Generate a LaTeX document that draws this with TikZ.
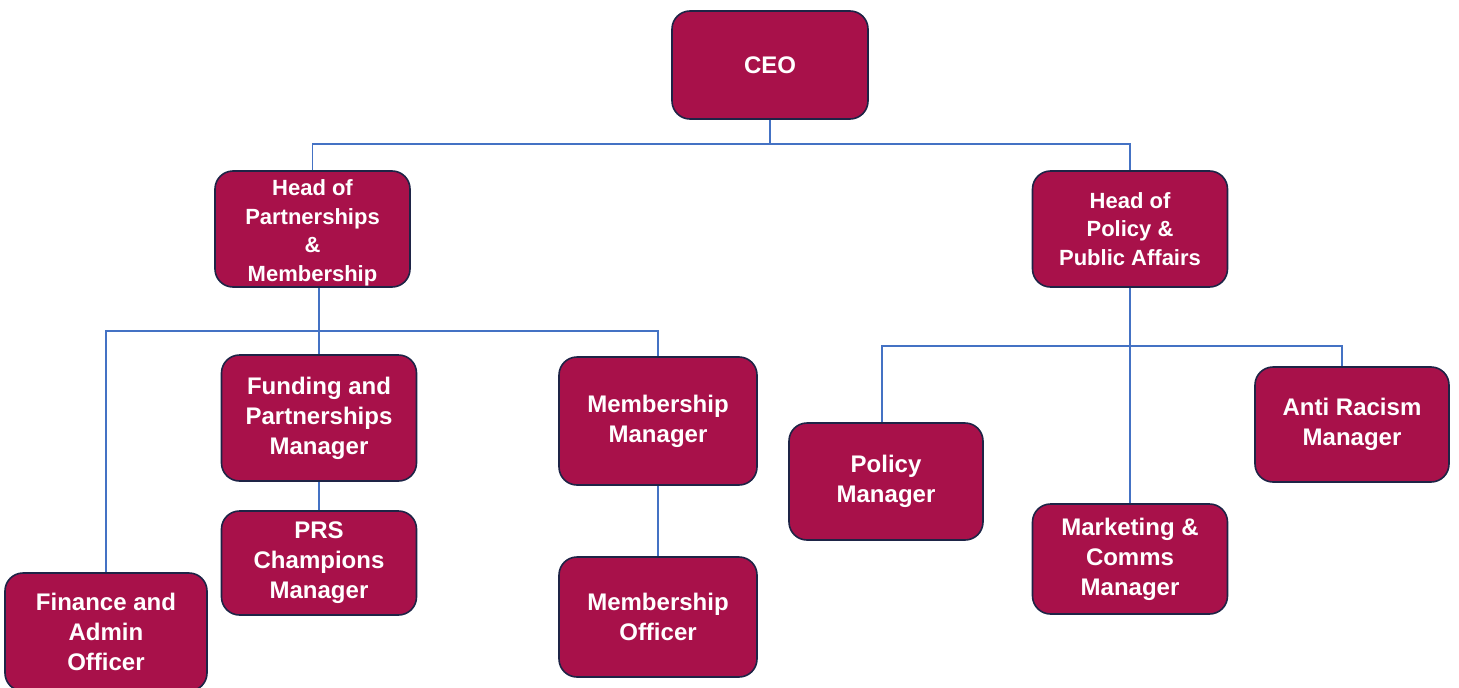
\documentclass[tikz,border=0pt]{standalone}
\usepackage{fontspec}
\setmainfont{Liberation Sans}
\definecolor{boxfill}{RGB}{168,17,74}
\definecolor{boxedge}{RGB}{30,36,70}
\definecolor{conncol}{RGB}{68,114,196}
\tikzset{
  orgbox/.style={draw=boxedge, fill=boxfill, line width=1.6pt, rounded corners=18pt,
    text=white, align=center, inner sep=0pt, font=\bfseries\fontsize{24}{30}\selectfont},
  headbox/.style={orgbox, font=\bfseries\fontsize{22}{28.5}\selectfont},
  conn/.style={draw=conncol, line width=1.6pt}
}
\begin{document}
\begin{tikzpicture}[x=1pt,y=-1pt]
\useasboundingbox (0,0) rectangle (1459,688);
% nodes
\node[orgbox, minimum width=196pt, minimum height=108pt] (ceo) at (770,65) {CEO};
\node[headbox, minimum width=195pt, minimum height=116pt] (hp) at (312.5,229) {\rule{0pt}{24pt}Head of\\Partnerships\\\&\\Membership};
\node[headbox, minimum width=195pt, minimum height=116pt] (hpol) at (1130,229) {Head of\\Policy \&\\Public Affairs};
\node[orgbox, minimum width=195pt, minimum height=126pt] (fund) at (319,418) {Funding and\\Partnerships\\Manager};
\node[orgbox, minimum width=195pt, minimum height=104pt] (prs) at (319,563) {PRS\\Champions\\Manager};
\node[orgbox, minimum width=202pt, minimum height=118pt] (fin) at (106,632) {Finance and\\Admin\\Officer};
\node[orgbox, minimum width=198pt, minimum height=128pt] (mm) at (658,421) {Membership\\Manager};
\node[orgbox, minimum width=198pt, minimum height=120pt] (mo) at (658,617) {Membership\\Officer};
\node[orgbox, minimum width=194pt, minimum height=117pt] (pol) at (886,481.5) {Policy\\Manager};
\node[orgbox, minimum width=195pt, minimum height=110pt] (mkt) at (1130,559) {Marketing \&\\Comms\\Manager};
\node[orgbox, minimum width=194pt, minimum height=115pt] (anti) at (1352,424.5) {Anti Racism\\Manager};
% bus coordinates
\coordinate (bceo) at (0,144);
\coordinate (bhp) at (0,331);
\coordinate (bpol) at (0,346);
% connectors
\draw[conn] (ceo.south) -- (ceo.south |- bceo);
\draw[conn] (hp.north) -- (hp.north |- bceo) -- (hpol.north |- bceo) -- (hpol.north);
\draw[conn] (hp.south -| fund.north) -- (fund.north);
\draw[conn] (fin.north) -- (fin.north |- bhp) -- (mm.north |- bhp) -- (mm.north);
\draw[conn] (fund.south) -- (prs.north);
\draw[conn] (mm.south) -- (mo.north);
\draw[conn] (hpol.south) -- (mkt.north);
\draw[conn] ([xshift=-4pt]pol.north) -- ([xshift=-4pt]pol.north |- bpol) -- ([xshift=-10pt]anti.north |- bpol) -- ([xshift=-10pt]anti.north);
\end{tikzpicture}
\end{document}
